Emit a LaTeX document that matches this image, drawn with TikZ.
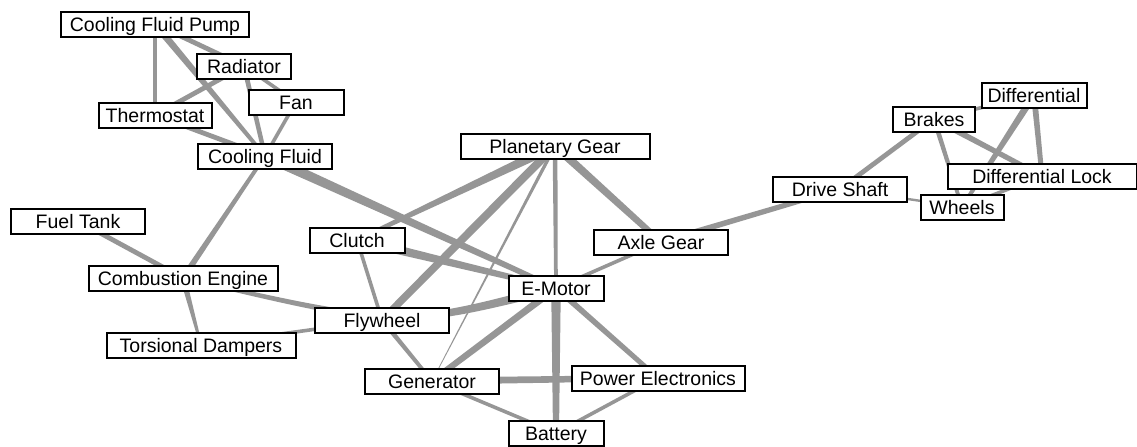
\documentclass[tikz,border=0pt]{standalone}
\usepackage{fontspec}
\setmainfont{Liberation Sans}
\usetikzlibrary{calc, backgrounds}

\definecolor{linkgray}{RGB}{150,150,150}

% tapered connector: from, to, half width at from, half width at to
\newcommand{\tlink}[4]{%
  \fill[linkgray] ($(#1)!#3!90:(#2)$) -- ($(#2)!#4!-90:(#1)$)
    -- ($(#2)!#4!90:(#1)$) -- ($(#1)!#3!-90:(#2)$) -- cycle;}

\begin{document}
\begin{tikzpicture}[
    x=0.5pt, y=-0.5pt,
    part/.style={draw, fill=white, line width=1pt, inner sep=0pt,
      minimum height=12.5pt, minimum width=#1, text height=7pt, text depth=0pt,
      font=\fontsize{9.75pt}{11pt}\selectfont}
]
    \useasboundingbox (0,0) rectangle (1137,446);

    % Cooling circuit
    \node[part=94pt]   (cfp)    at (155,24)  {Cooling Fluid Pump};
    \node[part=47pt]   (rad)    at (244,66)  {Radiator};
    \node[part=47.5pt] (fan)    at (296,102) {Fan};
    \node[part=56.5pt] (thermo) at (155,115) {Thermostat};
    \node[part=67pt]   (cfluid) at (265,156) {Cooling Fluid};

    % Engine side
    \node[part=67pt]   (fuel)   at (78,221)  {Fuel Tank};
    \node[part=94.5pt] (comb)   at (183,278) {Combustion Engine};
    \node[part=94.5pt] (damper) at (201,345) {Torsional Dampers};

    % Hybrid drive
    \node[part=47.5pt] (clutch) at (357,240) {Clutch};
    \node[part=94.5pt] (planet) at (555,146) {Planetary Gear};
    \node[part=67pt]   (axle)   at (661,242) {Axle Gear};
    \node[part=47.5pt] (emotor) at (556,288) {E-Motor};
    \node[part=67pt]   (fly)    at (382,320) {Flywheel};
    \node[part=67pt]   (gen)    at (432,381) {Generator};
    \node[part=86.5pt] (power)  at (658,378) {Power Electronics};
    \node[part=47.5pt] (battery) at (556,433) {Battery};

    % Driveline
    \node[part=67pt]   (shaft)  at (840,189) {Drive Shaft};
    \node[part=41pt]   (brakes) at (934,119) {Brakes};
    \node[part=52.5pt] (diff)   at (1034,95) {Differential};
    \node[part=94.5pt] (dlock)  at (1042,176) {Differential Lock};
    \node[part=41.5pt] (wheels) at (962,207) {Wheels};

    \coordinate (bend) at (400,328);

    % Links
    \begin{scope}[on background layer]
        \tlink{cfp}{thermo}{0.9pt}{0.9pt}
        \tlink{cfp}{rad}{1.2pt}{1.2pt}
        \tlink{cfp}{cfluid}{1.8pt}{0.9pt}
        \tlink{rad}{thermo}{1.2pt}{1.2pt}
        \tlink{rad}{cfluid}{1.2pt}{1.1pt}
        \tlink{rad}{fan}{0.9pt}{0.9pt}
        \tlink{fan}{cfluid}{0.9pt}{0.9pt}
        \tlink{thermo}{cfluid}{1.2pt}{1.2pt}
        \tlink{cfluid}{comb}{0.9pt}{1.5pt}
        \tlink{cfluid}{emotor}{2.6pt}{1.2pt}

        \tlink{fuel}{comb}{1.2pt}{1.2pt}
        \tlink{comb}{damper}{1.5pt}{0.6pt}
        \tlink{damper}{fly}{0.9pt}{0.9pt}
        \fill[linkgray] ([yshift=0.9pt]comb.center) .. controls ([yshift=1.6pt]bend) .. ([yshift=2.4pt]emotor.center)
            -- ([yshift=-2.4pt]emotor.center) .. controls ([yshift=-1.6pt]bend) .. ([yshift=-0.9pt]comb.center) -- cycle;

        \tlink{planet}{clutch}{2.4pt}{0.9pt}
        \tlink{planet}{fly}{2.1pt}{1.8pt}
        \tlink{planet}{gen}{0.9pt}{0.15pt}
        \tlink{planet}{emotor}{1.2pt}{0.9pt}
        \tlink{planet}{axle}{2.1pt}{1.5pt}
        \tlink{clutch}{emotor}{2.4pt}{1.2pt}
        \tlink{clutch}{fly}{0.9pt}{0.9pt}
        \tlink{fly}{gen}{1.2pt}{0.9pt}
        \tlink{emotor}{axle}{0.9pt}{0.9pt}
        \tlink{emotor}{gen}{1.8pt}{1.5pt}
        \tlink{emotor}{battery}{2.4pt}{1.5pt}
        \tlink{emotor}{power}{1.5pt}{1.2pt}
        \tlink{gen}{power}{1.8pt}{1.5pt}
        \tlink{gen}{battery}{0.9pt}{0.9pt}
        \tlink{power}{battery}{0.9pt}{0.9pt}

        \tlink{axle}{shaft}{1.5pt}{1.2pt}
        \tlink{shaft}{brakes}{1.2pt}{1.2pt}
        \tlink{shaft}{wheels}{0.6pt}{0.6pt}
        \tlink{brakes}{wheels}{1.2pt}{0.9pt}
        \tlink{brakes}{dlock}{1.5pt}{1.2pt}
        \tlink{brakes}{diff}{0.9pt}{0.9pt}
        \tlink{diff}{wheels}{1.8pt}{0.9pt}
        \tlink{diff}{dlock}{1.5pt}{1.2pt}
        \tlink{dlock}{wheels}{0.9pt}{0.9pt}
    \end{scope}
\end{tikzpicture}
\end{document}
